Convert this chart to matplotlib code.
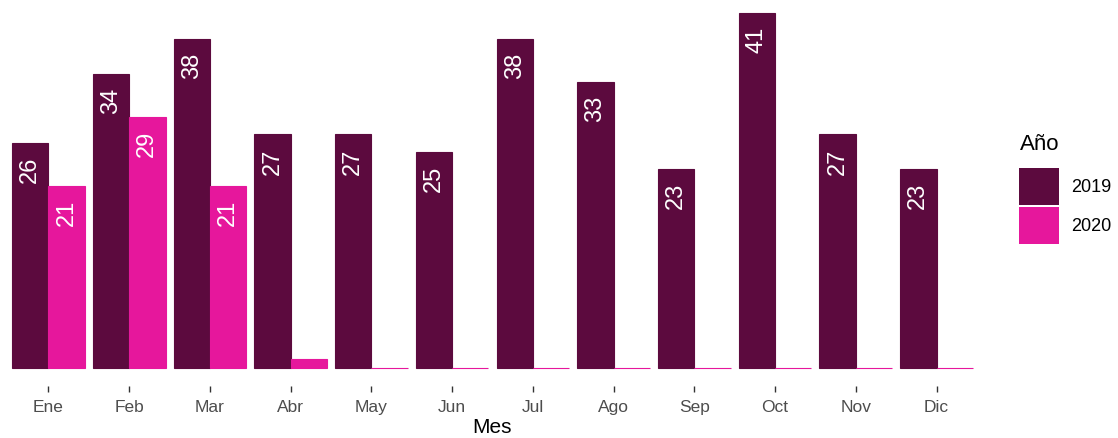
import matplotlib

matplotlib.use("Agg")

import matplotlib.pyplot as plt
import numpy as np
from matplotlib.patches import Patch

plt.rcParams["font.family"] = ["Liberation Sans", "DejaVu Sans"]

# data
meses = ["Ene", "Feb", "Mar", "Abr", "May", "Jun", "Jul", "Ago", "Sep", "Oct", "Nov", "Dic"]
valores_2019 = [26, 34, 38, 27, 27, 25, 38, 33, 23, 41, 27, 23]
valores_2020 = [21, 29, 21, 1, 0, 0, 0, 0, 0, 0, 0, 0]
anios = ["2019", "2020"]
colores = ["#5C0A3E", "#E6179C"]

x = np.arange(len(meses))
width = 0.45

fig = plt.figure(figsize=(11.18, 4.38), dpi=100)
ax = fig.add_axes([0.0, 0.119, 0.881, 0.881])

for serie, offset, color in zip([valores_2019, valores_2020], [-width / 2, width / 2], colores):
    ax.bar(x + offset, serie, width, color=color, edgecolor=color, linewidth=0.8)
    for xi, v in zip(x + offset, serie):
        if v > 1:
            ax.annotate(
                str(v),
                xy=(xi, v),
                xytext=(0, -10),
                textcoords="offset points",
                rotation=90,
                ha="center",
                va="top",
                color="white",
                fontsize=17,
            )

ax.set_xlim(-0.6, len(meses) - 0.4)
ax.set_ylim(-2.05, 42.5)
ax.set_xticks(x)
ax.set_xticklabels(meses, fontsize=12.5, color="#4D4D4D")
ax.tick_params(axis="x", length=4, width=1, color="#333333", pad=6)
ax.set_yticks([])
for side in ax.spines.values():
    side.set_visible(False)
ax.set_xlabel("Mes", fontsize=15, labelpad=2)

# legend: title as separate text so the gap to the keys matches
fig.text(0.912, 1 - 145 / 438, "Año", fontsize=16, ha="left", va="center")
handles = [Patch(facecolor=c, edgecolor="none") for c in colores]
fig.legend(
    handles,
    anios,
    loc="upper left",
    bbox_to_anchor=(0.905, 1 - 161 / 438),
    frameon=False,
    fontsize=13,
    handlelength=2.2,
    handleheight=2.75,
    labelspacing=0.12,
    handletextpad=0.7,
    borderaxespad=0,
)

fig.savefig("out.png", dpi=100)
